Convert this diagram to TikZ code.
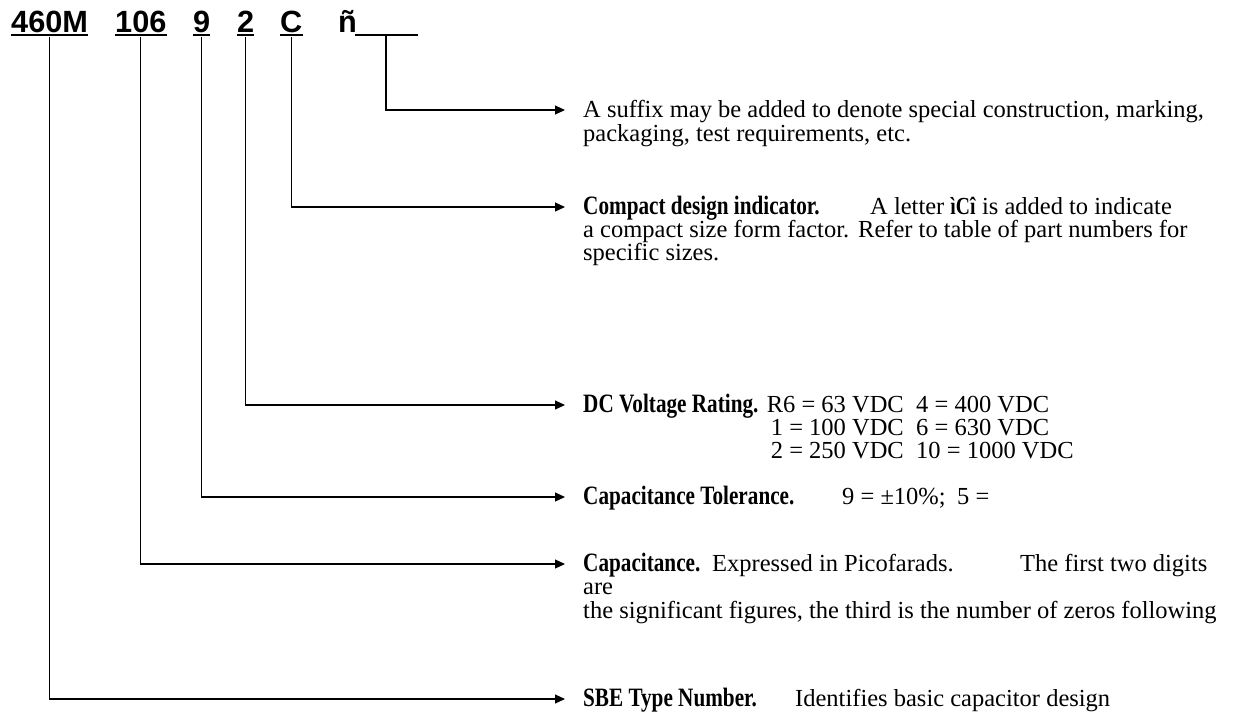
\documentclass[tikz,border=0pt]{standalone}
\usepackage{fontspec}
\setmainfont{Liberation Serif}[BoldFeatures={FakeStretch=0.8}]
\setsansfont{Liberation Sans}
\usetikzlibrary{arrows.meta, positioning}
\tikzset{
  code/.style = {anchor=base west, inner sep=0pt, font=\sffamily\bfseries\fontsize{30.7}{32}\selectfont},
  desc/.style = {anchor=base west, inner sep=0pt, font=\fontsize{24.5}{26}\selectfont},
  lbl/.style = {anchor=base west, inner sep=0pt, font=\fontsize{26.5}{28}\selectfont\bfseries},
  uline/.style = {line width=2.7pt},
  conn/.style = {line width=1.1pt, -{Triangle[length=10pt,width=9pt]}},
}
\begin{document}
\begin{tikzpicture}[x=1pt, y=-1pt]
\useasboundingbox (0,0) rectangle (1256,715);
\clip (0,0) rectangle (1256,715);

% part number
\node (c1) [code] at (11,32) {460M};
\node (c2) [code] at (115,32) {106};
\node (c3) [code] at (193,32) {9};
\node (c4) [code] at (237,32) {2};
\node (c5) [code] at (280,32) {C};
\node (c6) [code] at (338,32) {ñ};
\coordinate (c7a) at (355,35);
\coordinate (c7b) at (418,35);
\coordinate (c7) at (386,35);

\draw [uline] ([yshift=-3pt]c1.base west) -- ([yshift=-3pt]c1.base east);
\draw [uline] ([yshift=-3pt]c2.base west) -- ([yshift=-3pt]c2.base east);
\draw [uline] ([yshift=-3pt]c3.base west) -- ([yshift=-3pt]c3.base east);
\draw [uline] ([yshift=-3pt]c4.base west) -- ([yshift=-3pt]c4.base east);
\draw [uline] ([yshift=-3pt]c5.base west) -- ([yshift=-3pt]c5.base east);
\draw [uline] (c7a) -- (c7b);

% descriptions
\node (d1) [desc] at (583,117) {A suffix may be added to denote special construction, marking,};
\node (d1b) [desc] at ([yshift=-24pt]d1.base west) {packaging, test requirements, etc.};

\node (d2) [lbl] at (583,214) {Compact design indicator.};
\node (d2a) [desc] at (870,214) {A letter \textbf{ìCî} is added to indicate};
\node (d2b) [desc] at ([yshift=-23pt]d2.base west) {a compact size form factor.};
\node (d2c) [desc] at (858,237) {Refer to table of part numbers for};
\node (d2d) [desc] at ([yshift=-23pt]d2b.base west) {specific sizes.};

\node (d3) [lbl] at (583,412) {DC Voltage Rating.};
\node (v1) [desc, anchor=base east] at (904,412) {R6 = 63 VDC};
\node (v2) [desc, anchor=base east] at ([yshift=-23pt]v1.base east) {1 = 100 VDC};
\node (v3) [desc, anchor=base east] at ([yshift=-23pt]v2.base east) {2 = 250 VDC};
\node (v4) [desc] at (916,412) {4 = 400 VDC};
\node (v5) [desc] at ([yshift=-23pt]v4.base west) {6 = 630 VDC};
\node (v6) [desc] at ([yshift=-23pt]v5.base west) {10 = 1000 VDC};

\node (d4) [lbl] at (583,504) {Capacitance Tolerance.};
\node (d4a) [desc] at (842,504) {9 = ±10\%;};
\node (d4b) [desc] at (957,504) {5 =};

\node (d5) [lbl] at (583,571) {Capacitance.};
\node (d5a) [desc] at (712,571) {Expressed in Picofarads.};
\node (d5b) [desc] at (1020,571) {The first two digits};
\node (d5c) [desc] at ([yshift=-23pt]d5.base west) {are};
\node (d5d) [desc] at ([yshift=-24pt]d5c.base west) {the significant figures, the third is the number of zeros following};

\node (d6) [lbl] at (583,706) {SBE Type Number.};
\node (d6a) [desc] at (795,706) {Identifies basic capacitor design};

% arrow ends
\coordinate (e1) at (565,110);
\coordinate (e2) at (565,207);
\coordinate (e3) at (565,405);
\coordinate (e4) at (565,497);
\coordinate (e5) at (565,564);
\coordinate (e6) at (565,699);

\draw [conn] (c7) |- (e1);
\draw [conn] ([yshift=-5pt]c5.base) |- (e2);
\draw [conn] ([yshift=-5pt]c4.base) |- (e3);
\draw [conn] ([yshift=-5pt]c3.base) |- (e4);
\draw [conn] ([yshift=-5pt]c2.base) |- (e5);
\draw [conn] ([yshift=-5pt]c1.base) |- (e6);
\end{tikzpicture}
\end{document}
